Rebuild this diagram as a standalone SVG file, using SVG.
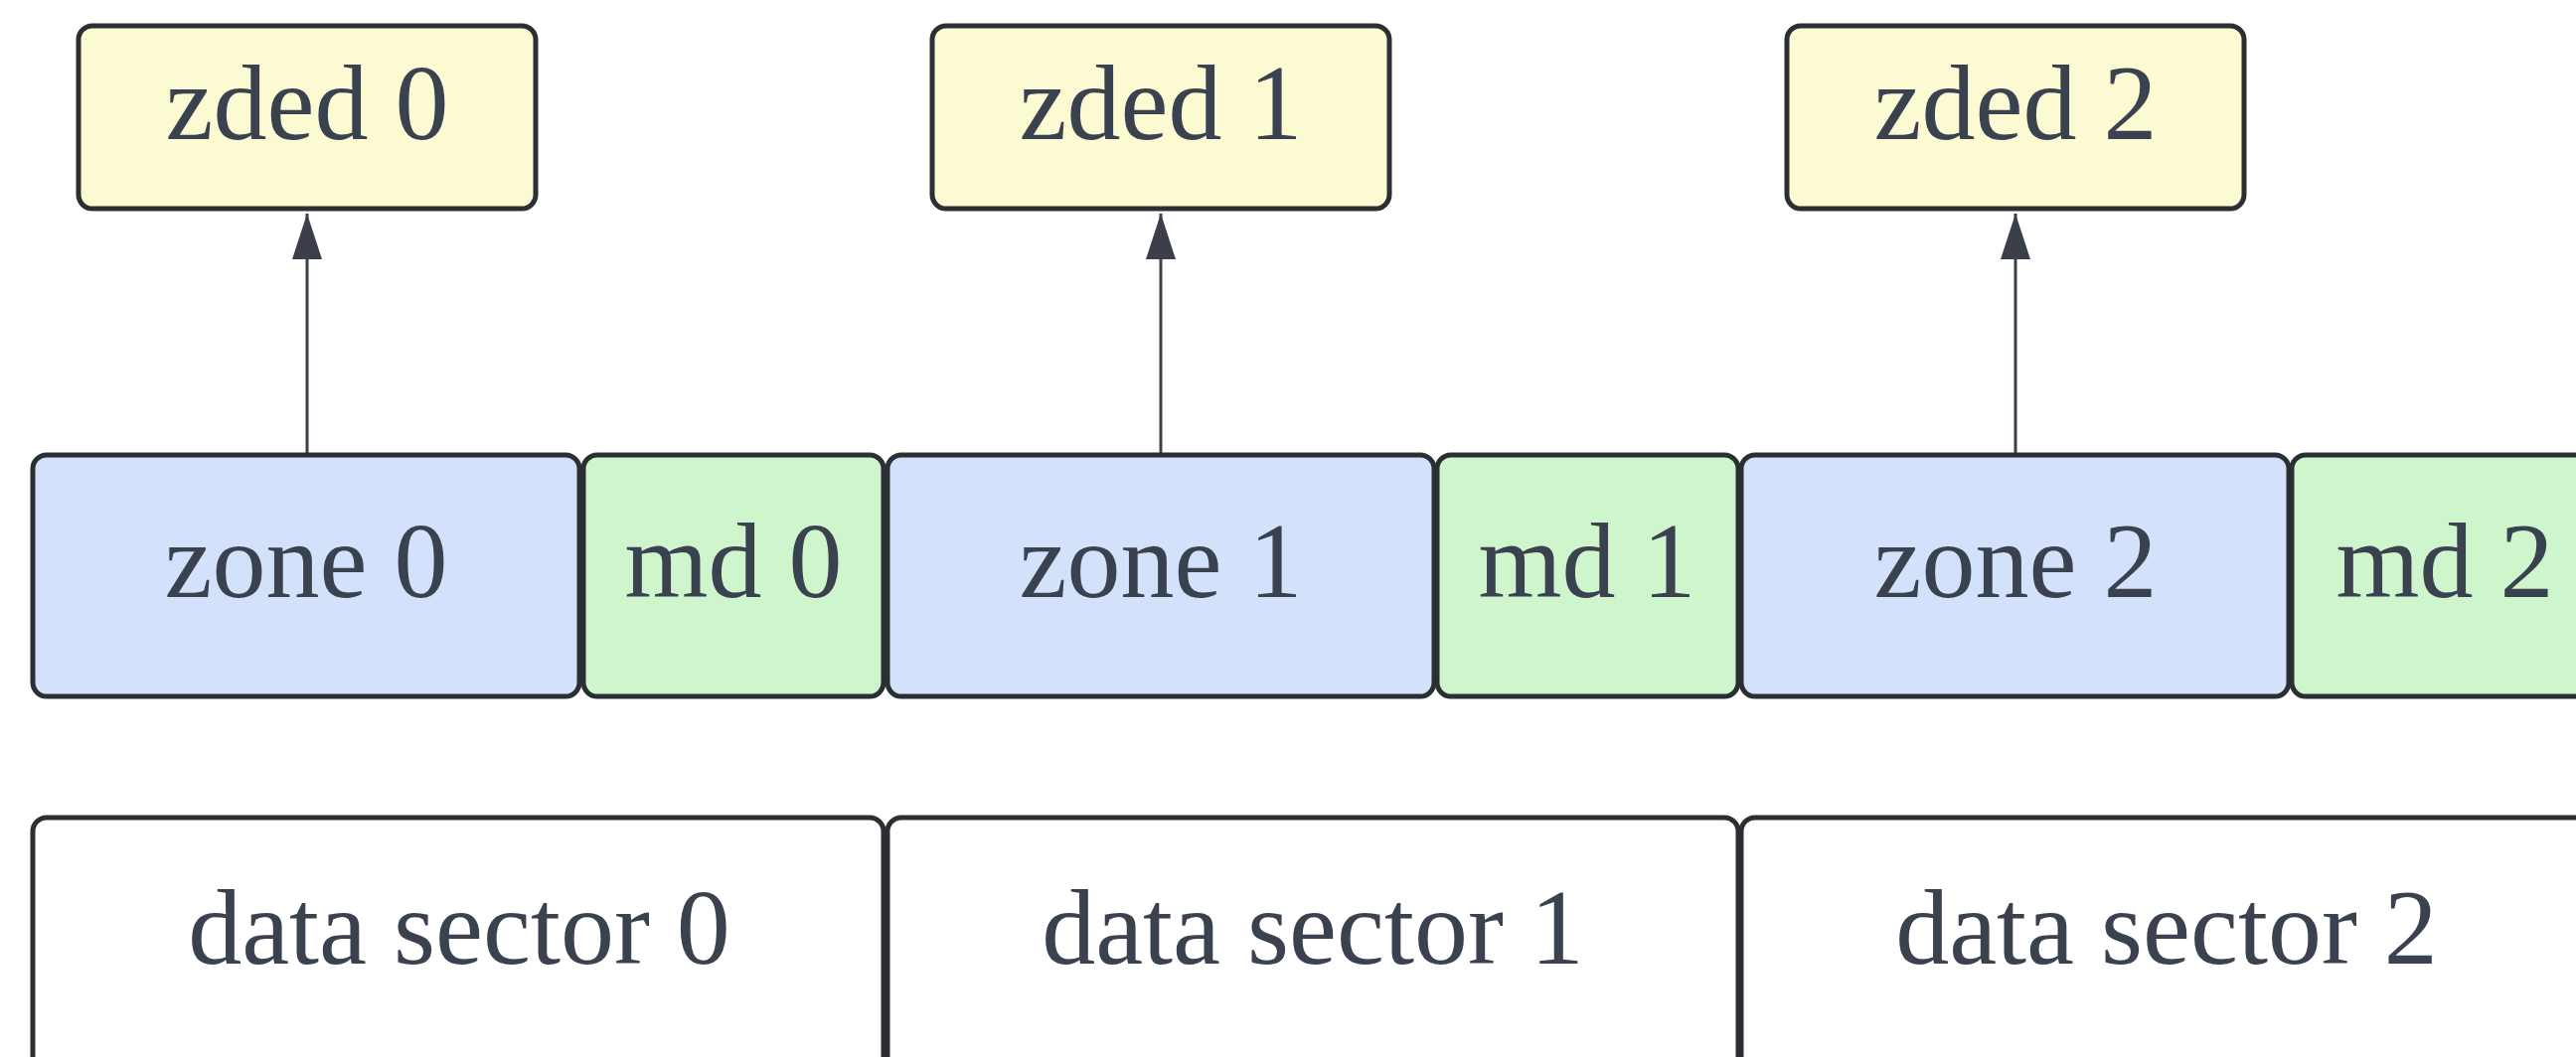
<svg xmlns="http://www.w3.org/2000/svg" width="2592" height="1064" viewBox="0 0 2592 1064">
<style>
.box{stroke:#2b2f33;stroke-width:5;}
.zded{fill:#fcfad3;}
.zone{fill:#d3e1fa;}
.md{fill:#cff5cd;}
.ds{fill:#ffffff;}
text{font-family:"Liberation Serif","Times New Roman",serif;font-size:108px;fill:#3a4250;text-anchor:middle;}
.conn{stroke:#3a3f4a;stroke-width:3;fill:none;}
</style>
<defs>
<marker id="arr" markerWidth="46" markerHeight="30" refX="46" refY="15" orient="auto" markerUnits="userSpaceOnUse" viewBox="0 0 46 30">
<path d="M0,0 L46,15 L0,30 Z" fill="#3a3f4a"/>
</marker>
</defs>
<rect width="2592" height="1064" fill="#ffffff"/>
<g id="connectors">
<line class="conn" x1="309" y1="456" x2="309" y2="215" marker-end="url(#arr)"/>
<line class="conn" x1="1168" y1="456" x2="1168" y2="215" marker-end="url(#arr)"/>
<line class="conn" x1="2028" y1="456" x2="2028" y2="215" marker-end="url(#arr)"/>
</g>
<g id="zded0"><rect class="box zded" x="79" y="26" width="460" height="184" rx="14"/><text x="309" y="140">zded 0</text></g>
<g id="zded1"><rect class="box zded" x="938" y="26" width="460" height="184" rx="14"/><text x="1168" y="140">zded 1</text></g>
<g id="zded2"><rect class="box zded" x="1798" y="26" width="460" height="184" rx="14"/><text x="2028" y="140">zded 2</text></g>
<g id="zone0"><rect class="box zone" x="33" y="458" width="550" height="243" rx="14"/><text x="308" y="601">zone 0</text></g>
<g id="md0"><rect class="box md" x="587" y="458" width="302" height="243" rx="14"/><text x="738" y="601">md 0</text></g>
<g id="zone1"><rect class="box zone" x="893" y="458" width="550" height="243" rx="14"/><text x="1168" y="601">zone 1</text></g>
<g id="md1"><rect class="box md" x="1446" y="458" width="303" height="243" rx="14"/><text x="1597" y="601">md 1</text></g>
<g id="zone2"><rect class="box zone" x="1752" y="458" width="551" height="243" rx="14"/><text x="2028" y="601">zone 2</text></g>
<g id="md2"><rect class="box md" x="2306" y="458" width="320" height="243" rx="14"/><text x="2460" y="601">md 2</text></g>
<g id="ds0"><rect class="box ds" x="33" y="823" width="856" height="260" rx="14"/><text x="462" y="970">data sector 0</text></g>
<g id="ds1"><rect class="box ds" x="893" y="823" width="856" height="260" rx="14"/><text x="1321" y="970">data sector 1</text></g>
<g id="ds2"><rect class="box ds" x="1752" y="823" width="880" height="260" rx="14"/><text x="2180" y="970">data sector 2</text></g>
</svg>
